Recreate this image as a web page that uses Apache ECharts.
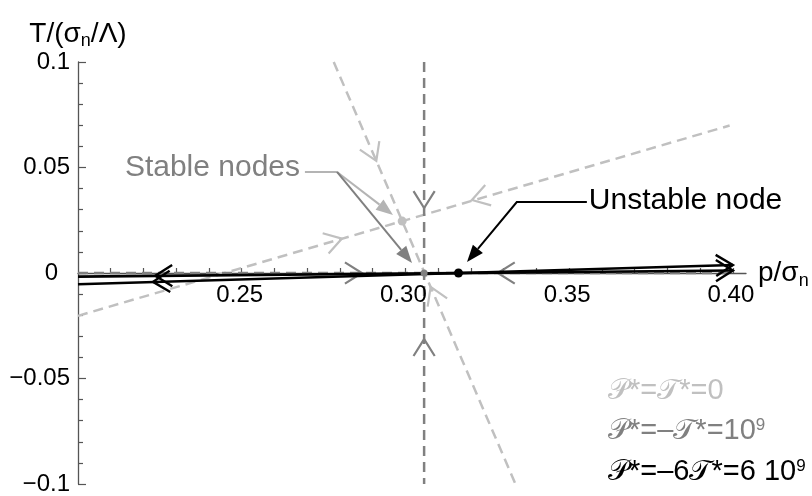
<!DOCTYPE html>
<html><head><meta charset="utf-8">
<script src="https://cdn.jsdelivr.net/npm/echarts@6/dist/echarts.min.js"></script>
<style>html,body{margin:0;padding:0;background:#fff}#c{width:812px;height:496px}</style>
</head><body><div id="c"></div>
<script>
// ---- axes ----
const xRange = [0.2, 0.404];
const yRange = [-0.1, 0.1];
const xMinorTicks = [0.21,0.22,0.23,0.24,0.25,0.26,0.27,0.28,0.29,0.30,0.31,0.32,0.33,0.34,0.35,0.36,0.37,0.38,0.39,0.40];
const xTickLabels = [0.25, 0.30, 0.35, 0.40];
const yTickLabels = [-0.1, -0.05, 0, 0.05, 0.1];

// ---- P*=T*=0 (light gray) ----
const lightNode = [[0.299, 0.0246]];
const lightLineA = [[0.2, -0.0203], [0.399, 0.0699]];
const lightLineB = [[0.2781, 0.1], [0.3336, -0.1]];
const lightArrows = [[0.2806, 0.0163, 1, 0.453], [0.3203, 0.0346, -1, -0.453], [0.2911, 0.0531, 1, -3.6], [0.3077, -0.0066, -1, 3.6]];

// ---- P*=-T*=1e9 (dark gray) ----
const grayNode = [[0.3057, 0]];
const grayLineV = [[0.3057, 0.1], [0.3057, -0.1]];
const grayLineH = [[0.2, 0], [0.40, 0]];
const grayArrows = [[0.3057, 0.0308, 0, -1], [0.3057, -0.0313, 0, 1], [0.2867, 0, 1, 0], [0.3282, 0, -1, 0]];

// ---- P*=-6T*=6e9 (black) ----
const blackNode = [[0.3162, 0]];
const blackLineC = [[0.2, -0.0053], [0.40, 0.0038]];
const blackLineD = [[0.2, -0.0017], [0.40, 0.0012]];
const blackArrows = [[0.2229, -0.0042, -1, -0.0453], [0.2236, -0.00135, -1, -0.0145], [0.40, 0.0038, 1, 0.0453], [0.40, 0.0012, 1, 0.0145]];

// ---- annotations ----
const stableLabelPos = [0.2678, 0.0498];
const unstableLabelPos = [0.3560, 0.0341];
const stableStem = [[0.2693, 0.0479], [0.2791, 0.0479]];
const stableArrowLight = [[0.2791, 0.0479], [0.2962, 0.0275]];
const stableArrowDark = [[0.2791, 0.0479], [0.3020, 0.0047]];
const unstableArrow = [[0.3554, 0.0336], [0.3340, 0.0336], [0.3188, 0.0052]];

const LIGHT = '#c0c0c0', GRAY = '#808080', BLACK = '#000000';
const FONT = 'Liberation Sans, Arial, Helvetica, sans-serif';

function fmtY(v) {
  if (Math.abs(v) < 1e-9) return '{z|0}';
  let s = String(Math.round(v * 100) / 100);
  return s.replace('-', '\u2212');
}

function chevronSeries(data, color, width, z) {
  return {
    type: 'custom', data: data, z: z, silent: true,
    renderItem: function (params, api) {
      const p = api.value(0), t = api.value(1), dp = api.value(2), dt = api.value(3);
      const tip = api.coord([p, t]);
      const b = api.coord([p - dp * 0.001, t - dt * 0.001]);
      let ux = tip[0] - b[0], uy = tip[1] - b[1];
      const n = Math.hypot(ux, uy); ux /= n; uy /= n;
      const L = 20, a = 32 * Math.PI / 180;
      const c = Math.cos(a), s = Math.sin(a);
      const r1 = [ux * c - uy * s, ux * s + uy * c];
      const r2 = [ux * c + uy * s, -ux * s + uy * c];
      return {
        type: 'polyline',
        shape: { points: [[tip[0] - L * r1[0], tip[1] - L * r1[1]], tip, [tip[0] - L * r2[0], tip[1] - L * r2[1]]] },
        style: { stroke: color, lineWidth: width, fill: null, lineJoin: 'miter' }
      };
    }
  };
}

function lineSeries(data, color, dashed, width, z) {
  return {
    type: 'line', data: data, z: z, showSymbol: false, silent: true, animation: false,
    lineStyle: { color: color, width: width, type: dashed ? [10, 6] : 'solid' }
  };
}

function leaderElements(api, pts, color, head) {
  const px = pts.map(function (q) { return api.coord(q); });
  const els = [];
  const n = px.length;
  let end = px[n - 1];
  if (head) {
    const prev = px[n - 2];
    let ux = end[0] - prev[0], uy = end[1] - prev[1];
    const d = Math.hypot(ux, uy); ux /= d; uy /= d;
    const HL = 17, HW = 6.5;
    const base = [end[0] - ux * HL, end[1] - uy * HL];
    els.push({ type: 'polyline', shape: { points: px.slice(0, n - 1).concat([base]) }, style: { stroke: color, lineWidth: 2, fill: null } });
    els.push({ type: 'polygon', shape: { points: [end, [base[0] - uy * HW, base[1] + ux * HW], [base[0] + uy * HW, base[1] - ux * HW]] }, style: { fill: color } });
  } else {
    els.push({ type: 'polyline', shape: { points: px }, style: { stroke: color, lineWidth: 2, fill: null } });
  }
  return els;
}

const chart = echarts.init(document.getElementById('c'), null, { renderer: 'canvas' });
chart.setOption({
  animation: false,
  backgroundColor: '#fff',
  grid: { left: 78, right: 66, top: 62, bottom: 12, outerBoundsMode: 'none', containLabel: false },
  xAxis: {
    type: 'value', min: xRange[0], max: xRange[1], interval: 0.01,
    name: '{m|p/\u03c3}{s|n}', nameLocation: 'end', nameGap: 12,
    nameTextStyle: { align: 'left', verticalAlign: 'middle', rich: {
      m: { fontFamily: FONT, fontSize: 28, color: '#000', lineHeight: 34 },
      s: { fontFamily: FONT, fontSize: 18, color: '#000', lineHeight: 10, verticalAlign: 'bottom' } } },
    axisLine: { onZero: true, lineStyle: { color: '#555', width: 1.3 } },
    axisTick: { inside: true, length: 5, customValues: xMinorTicks, lineStyle: { color: '#555', width: 1.2 } },
    axisLabel: { show: false },
    splitLine: { show: false }
  },
  yAxis: {
    type: 'value', min: yRange[0], max: yRange[1], interval: 0.05,
    name: '{m|T/(\u03c3}{s|n}{m|/\u039b)}', nameLocation: 'end', nameGap: 12,
    nameTextStyle: { align: 'center', rich: {
      m: { fontFamily: FONT, fontSize: 28, color: '#000', lineHeight: 32 },
      s: { fontFamily: FONT, fontSize: 18, color: '#000', lineHeight: 14, verticalAlign: 'bottom' } } },
    axisLine: { lineStyle: { color: '#555', width: 1.3 } },
    axisTick: { inside: true, length: 8, lineStyle: { color: '#555', width: 1.2 } },
    minorTick: { show: true, splitNumber: 5, length: 5, lineStyle: { color: '#555', width: 1.2 } },
    axisLabel: { margin: 8, fontFamily: FONT, fontSize: 24, color: '#000', formatter: fmtY,
      rich: { z: { fontFamily: FONT, fontSize: 24, color: '#000', padding: [0, 12, 0, 0] } } },
    splitLine: { show: false }
  },
  series: [
    lineSeries(lightLineA, LIGHT, true, 2.5, 1),
    lineSeries(lightLineB, LIGHT, true, 2.5, 1),
    chevronSeries(lightArrows, LIGHT, 2.2, 2),
    lineSeries(grayLineV, GRAY, true, 2.5, 3),
    lineSeries(grayLineH, GRAY, true, 2.5, 3),
    chevronSeries(grayArrows, GRAY, 2.2, 4),
    lineSeries(blackLineC, BLACK, false, 2.6, 5),
    lineSeries(blackLineD, BLACK, false, 2.6, 5),
    chevronSeries(blackArrows, BLACK, 2.4, 6),
    { type: 'scatter', data: lightNode, symbolSize: 9, itemStyle: { color: LIGHT, opacity: 1 }, z: 7, silent: true },
    { type: 'scatter', data: grayNode, symbolSize: 7, itemStyle: { color: GRAY, opacity: 1 }, z: 7, silent: true },
    { type: 'scatter', data: blackNode, symbolSize: 9, itemStyle: { color: BLACK, opacity: 1 }, z: 8, silent: true },
    // x tick labels, placed under the zero line through the axis scale
    {
      type: 'custom', data: xTickLabels.map(function (v) { return [v, 0]; }), z: 9, silent: true,
      renderItem: function (params, api) {
        const pos = api.coord([api.value(0), api.value(1)]);
        return { type: 'text', x: pos[0] - 2, y: pos[1] + 10,
          style: { text: api.value(0).toFixed(2), fill: '#000', font: '24px ' + FONT, align: 'center', verticalAlign: 'top' } };
      }
    },
    {
      type: 'custom', data: [[0]], z: 9, silent: true,
      renderItem: function (params, api) {
        let els = [];
        els = els.concat(leaderElements(api, stableStem, '#b4b4b4', false));
        els = els.concat(leaderElements(api, stableArrowLight, '#b4b4b4', true));
        els = els.concat(leaderElements(api, stableArrowDark, GRAY, true));
        els = els.concat(leaderElements(api, unstableArrow, BLACK, true));
        const sp = api.coord(stableLabelPos), up = api.coord(unstableLabelPos);
        els.push({ type: 'text', x: sp[0], y: sp[1], style: { text: 'Stable nodes', fill: GRAY, font: '30px ' + FONT, align: 'right', verticalAlign: 'middle' } });
        els.push({ type: 'text', x: up[0], y: up[1], style: { text: 'Unstable node', fill: BLACK, font: '30px ' + FONT, align: 'left', verticalAlign: 'middle' } });
        return { type: 'group', children: els };
      }
    }
  ],
  graphic: [
    { type: 'text', x: 608, y: 391, style: { text: '{s|\ud835\udcab}*={s|\ud835\udcaf}*=0', fill: LIGHT, verticalAlign: 'middle',
      rich: { s: { fontFamily: FONT, fontSize: 29, fill: LIGHT }, }, font: '29px ' + FONT } },
    { type: 'text', x: 608, y: 431, style: { text: '{s|\ud835\udcab}*=\u2013{s|\ud835\udcaf}*=10{p|9}', fill: GRAY, verticalAlign: 'middle', font: '29px ' + FONT,
      rich: { s: { fontFamily: FONT, fontSize: 29, fill: GRAY }, p: { fontFamily: FONT, fontSize: 17, fill: GRAY, verticalAlign: 'top', lineHeight: 22 } } } },
    { type: 'text', x: 608, y: 472, style: { text: '{s|\ud835\udcab}*=\u20136{s|\ud835\udcaf}*=6 10{p|9}', fill: BLACK, verticalAlign: 'middle', font: '29px ' + FONT,
      rich: { s: { fontFamily: FONT, fontSize: 29, fill: BLACK }, p: { fontFamily: FONT, fontSize: 17, fill: BLACK, verticalAlign: 'top', lineHeight: 22 } } } }
  ]
});
</script></body></html>
